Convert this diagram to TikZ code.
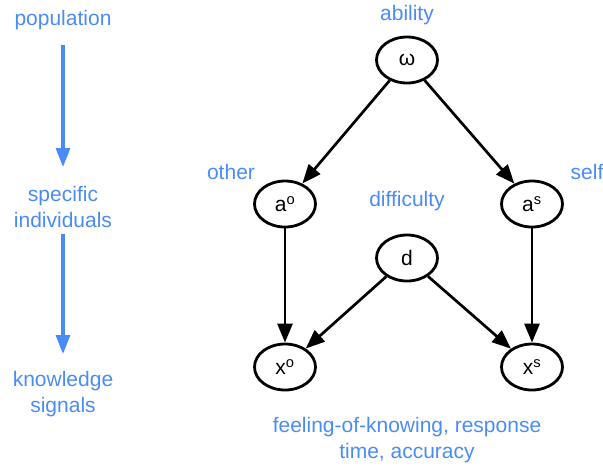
\documentclass[tikz,border=0pt]{standalone}
\usepackage{fontspec}
\setmainfont{Liberation Sans}
\usetikzlibrary{shapes.geometric,arrows.meta}
\definecolor{lblue}{HTML}{4A8CF7}
\begin{document}
\begin{tikzpicture}[x=1pt,y=-1pt,
  var/.style={draw=black,line width=2.8pt,ellipse,minimum width=61pt,minimum height=46pt,inner sep=0pt,font=\fontsize{21}{24}\selectfont},
  lab/.style={text=lblue,font=\fontsize{21}{26}\selectfont,align=center,inner sep=0pt},
  edge/.style={draw=black,line width=2.7pt,-{Triangle[length=19pt,width=15pt]}},
  bedge/.style={draw=lblue,line width=3.2pt,-{Triangle[length=19pt,width=14pt]}}]
\useasboundingbox (0,0) rectangle (603,467);
\node[var] (w) at (407,60) {ω};
\node[var] (ao) at (285,204) {a\textsuperscript{o}};
\node[var] (as) at (532,204) {a\textsuperscript{s}};
\node[var] (d) at (407,258) {d};
\node[var] (xo) at (285,367) {x\textsuperscript{o}};
\node[var] (xs) at (532,367) {x\textsuperscript{s}};
\node[lab] (lab) at (407,15) {ability};
\node[lab] (lot) at (231,172) {other};
\node[lab] (lse) at (587,172) {self};
\node[lab] (ldi) at (407,201) {difficulty};
\node[lab] (lfk) at (407,440) {feeling-of-knowing, response\\time, accuracy};
\node[lab] (pop) at (63,20) {population};
\node[lab] (ind) at (63,207) {specific\\individuals};
\node[lab] (sig) at (63,394) {knowledge\\signals};
\coordinate (p1) at (63,45);
\coordinate (p2) at (63,167);
\coordinate (p3) at (63,234);
\coordinate (p4) at (63,354);
\draw[bedge] (p1) -- (p2);
\draw[bedge] (p3) -- (p4);
\draw[edge] (w) -- (ao);
\draw[edge] (w) -- (as);
\draw[edge] (ao) -- (xo);
\draw[edge] (as) -- (xs);
\draw[edge] (d) -- (xo);
\draw[edge] (d) -- (xs);
\end{tikzpicture}
\end{document}
